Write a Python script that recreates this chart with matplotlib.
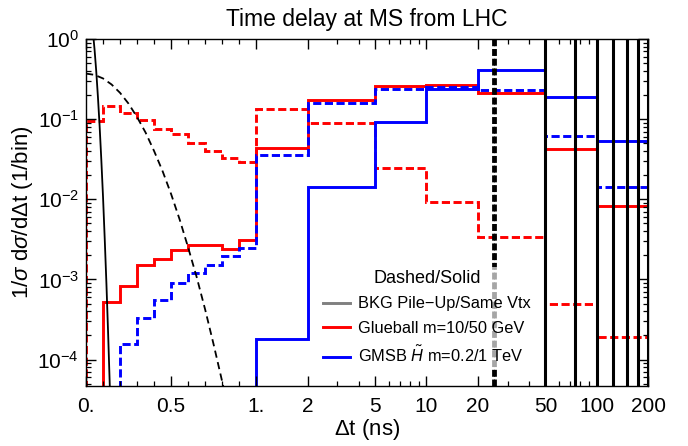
import matplotlib.pyplot as plt
import numpy as np

plt.rcParams['font.family'] = ['Liberation Sans', 'DejaVu Sans']
plt.rcParams['mathtext.fontset'] = 'custom'
plt.rcParams['mathtext.rm'] = 'Liberation Sans'
plt.rcParams['mathtext.it'] = 'Liberation Sans:italic'

# bin edges in ns (linear below 1 ns, log above)
edges = [0.0, 0.1, 0.2, 0.3, 0.4, 0.5, 0.6, 0.7, 0.8, 0.9, 1.0, 2, 5, 10, 20, 50, 100, 200]

# Glueball m=10 GeV (dashed), all bins
glue10 = [0.094, 0.147, 0.121, 0.097, 0.076, 0.065, 0.050, 0.040, 0.033, 0.029,
          0.132, 0.090, 0.0246, 0.0092, 0.0034, 0.00049, 0.00019]
# Glueball m=50 GeV (solid), starts at 0.1 ns
glue50 = [0.00053, 0.00083, 0.0015, 0.0018, 0.0023, 0.00266, 0.0027, 0.0024, 0.0031,
          0.044, 0.173, 0.259, 0.268, 0.21, 0.042, 0.0083]
# GMSB Higgsino m=0.2 TeV (dashed), starts at 0.2 ns
gmsb02 = [0.000158, 0.00033, 0.00055, 0.00089, 0.0012, 0.0015, 0.00196, 0.0025,
          0.0355, 0.16, 0.24, 0.25, 0.23, 0.061, 0.0143]
# GMSB Higgsino m=1 TeV (solid), starts at 1 ns
gmsb1 = [0.000178, 0.0143, 0.093, 0.24, 0.41, 0.187, 0.053]

# background curves near 0
pileup_t = [0, 0.05, 0.1, 0.15, 0.2, 0.25, 0.3, 0.35, 0.4, 0.45, 0.5, 0.55, 0.6,
            0.65, 0.7, 0.75, 0.8, 0.85]
pileup_v = [0.37, 0.357, 0.322, 0.271, 0.213, 0.156, 0.106, 0.068, 0.040, 0.0224,
            0.0116, 0.0056, 0.0025, 0.00107, 0.00042, 0.000153, 5.3e-5, 1.7e-5]
samevtx_t = [0.03, 0.04, 0.05, 0.06, 0.07, 0.08, 0.09, 0.10, 0.11, 0.12, 0.13, 0.14, 0.15]
samevtx_v = [1.87, 1.26, 0.75, 0.40, 0.19, 0.082, 0.031, 0.0107, 0.0032, 8.8e-4,
             2.1e-4, 4.5e-5, 8.6e-6]

# background spikes at bunch crossings
pileup_spikes = [24.7, 25.3, 50]
samevtx_spikes = [50, 75, 100, 125, 150, 175, 200]

xticks = [0, 0.5, 1, 2, 5, 10, 20, 50, 100, 200]
xticklabels = ['0.', '0.5', '1.', '2', '5', '10', '20', '50', '100', '200']
xminor = [0.1, 0.2, 0.3, 0.4, 0.6, 0.7, 0.8, 0.9, 3, 4, 6, 7, 8, 9, 30, 40, 60, 70, 80, 90]


def fwd(t):
    t = np.asarray(t, dtype=float)
    return np.where(t < 1, t, 1 + np.log10(np.maximum(t, 1)))


def inv(u):
    u = np.asarray(u, dtype=float)
    return np.where(u < 1, u, 10 ** (np.maximum(u, 1) - 1))


fig = plt.figure(figsize=(6.88, 4.46), dpi=100)
ax = fig.add_axes([86 / 688, 1 - 386 / 446, (648 - 86) / 688, (386 - 39) / 446])
ax.set_xscale('function', functions=(fwd, inv))
ax.set_yscale('log')

lw = 2.1
dash = (2.8, 1.2)
base = 1e-9
ax.stairs(glue10, edges, baseline=base, color='red', lw=lw, ls=(0, dash))
ax.stairs(glue50, edges[1:], baseline=base, color='red', lw=lw)
ax.stairs(gmsb02, edges[2:], baseline=base, color='blue', lw=lw, ls=(0, dash))
ax.stairs(gmsb1, edges[10:], baseline=base, color='blue', lw=lw)

ax.plot(pileup_t, pileup_v, color='black', lw=1.3, ls=(0, (4, 2.5)))
ax.plot(samevtx_t, samevtx_v, color='black', lw=1.3)

for x in samevtx_spikes:
    ax.axvline(x, color='black', lw=2.2)
for x in pileup_spikes:
    ax.axvline(x, color='black', lw=2.0, ls=(0, (2.5, 1)))

ax.set_xlim(0, 200)
ax.set_ylim(10 ** -4.33, 1)
ax.set_xticks(xticks, xticklabels)
ax.set_xticks(xminor, minor=True)

ax.tick_params(which='both', direction='in', top=True, right=True, labelsize=15)
ax.tick_params(which='major', length=7, width=1)
ax.tick_params(which='minor', length=3.5, width=0.9)
ax.tick_params(axis='x', pad=8)
ax.tick_params(axis='y', pad=5)
for s in ax.spines.values():
    s.set_linewidth(1.0)

ax.set_title('Time delay at MS from LHC', fontsize=16.5, pad=9)
ax.set_xlabel(r'$\Delta$t (ns)', fontsize=16, labelpad=1)
ax.set_ylabel(r'1/$\sigma$ d$\sigma$/d$\Delta$t (1/bin)', fontsize=16, labelpad=2)

handles = [
    plt.Line2D([], [], color='gray', lw=lw),
    plt.Line2D([], [], color='red', lw=lw),
    plt.Line2D([], [], color='blue', lw=lw),
]
labels = ['BKG Pile\u2212Up/Same Vtx', 'Glueball m=10/50 GeV', r'GMSB $\tilde{H}$ m=0.2/1 TeV']
leg = ax.legend(handles, labels, title='Dashed/Solid', loc='upper left',
                bbox_to_anchor=(0.418, 0.342), fontsize=11.8, title_fontsize=13,
                frameon=True, facecolor='white', edgecolor='none', framealpha=0.65,
                handlelength=1.6, handletextpad=0.5, labelspacing=0.58,
                borderpad=0.15, borderaxespad=0, fancybox=False)
leg.get_frame().set_linewidth(0)

fig.savefig('out.png', dpi=100)
